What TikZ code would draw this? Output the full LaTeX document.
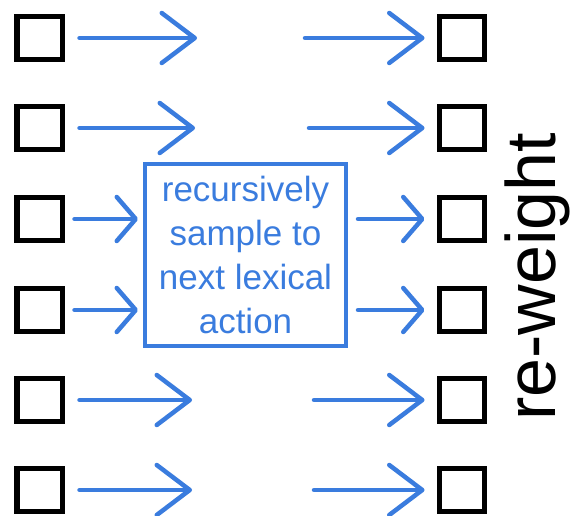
\documentclass[tikz,border=0pt]{standalone}
\usepackage{fontspec}
\setmainfont{Liberation Sans}
\usetikzlibrary{arrows.meta}
\definecolor{flowblue}{RGB}{58,124,222}
\begin{document}
\begin{tikzpicture}[x=1bp,y=-1bp,
  cell/.style={draw=black, line width=5bp, minimum width=45bp, minimum height=43bp, inner sep=0pt},
  flow/.style={draw=flowblue, line width=4.5bp, line cap=round,
    -{Straight Barb[length=33bp,width=50bp,round]}},
  flowshort/.style={draw=flowblue, line width=4.5bp, line cap=round,
    -{Straight Barb[length=19bp,width=44bp,round]}},
  sampler/.style={draw=flowblue, line width=4bp, minimum width=201bp, minimum height=182bp,
    inner sep=0pt, text=flowblue, align=center, font=\fontsize{35bp}{44bp}\selectfont},
]
\useasboundingbox (0,0) rectangle (571,516);

% input and output states, one pair per row
\foreach \i/\y in {1/38,2/128,3/219,4/310,5/400,6/490}{
  \node[cell] (L\i) at (39.5,\y) {};
  \node[cell] (R\i) at (461.5,\y) {};
}

% the sampling step in the middle
\node[sampler] (box) at (245.5,255) {recursively\\sample to\\next lexical\\action};

% free ends of the open arrows
\coordinate (a1) at (197,38);
\coordinate (a2) at (195,128);
\coordinate (a5) at (192,400);
\coordinate (a6) at (192,490);
\coordinate (b1) at (305,38);
\coordinate (b2) at (309,128);
\coordinate (b5) at (314,400);
\coordinate (b6) at (314,490);

% arrows leaving the inputs
\foreach \i in {1,2,5,6}{
  \draw[flow, shorten <=15bp] (L\i.east) -- (a\i);
}
\draw[flowshort, shorten <=10bp, shorten >=5bp] (L3.east) -- (L3.east -| box.west);
\draw[flowshort, shorten <=10bp, shorten >=5bp] (L4.east) -- (L4.east -| box.west);

% arrows reaching the outputs
\foreach \i in {1,2,5,6}{
  \draw[flow, shorten >=12bp] (b\i) -- (R\i.west);
}
\draw[flowshort, shorten <=10bp, shorten >=12bp] (box.east |- R3.west) -- (R3.west);
\draw[flowshort, shorten <=10bp, shorten >=12bp] (box.east |- R4.west) -- (R4.west);

% label along the outputs
\node[rotate=90, anchor=base, inner sep=0pt, font=\fontsize{70bp}{84bp}\selectfont] (rw) at (555,277) {re-weight};
\end{tikzpicture}
\end{document}
